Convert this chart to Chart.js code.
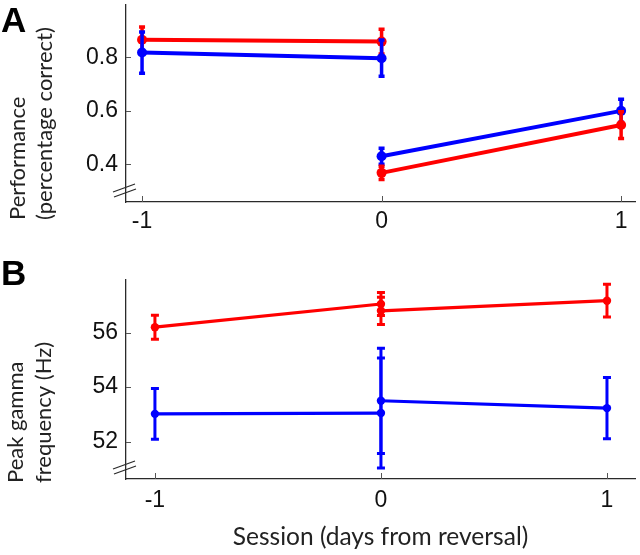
<!DOCTYPE html>
<html>
<head>
<meta charset="utf-8">
<script src="https://cdn.jsdelivr.net/npm/chart.js@4.4.1/dist/chart.umd.min.js"></script>
<style>
  html, body { margin: 0; padding: 0; background: #ffffff; }
  #wrap { position: relative; width: 640px; height: 555px; }
  canvas { position: absolute; left: 0; }
  #cA { top: 0; }
  #cB { top: 240px; }
</style>
</head>
<body>
<div id="wrap">
  <canvas id="cA" width="640" height="240"></canvas>
  <canvas id="cB" width="640" height="315"></canvas>
</div>
<script>
// ---------- data ----------
const sessionsPre = [-1, 0];
const sessionsPost = [0, 1];
const xTickLabels = ['-1', '0', '1'];

// Panel A: performance (percentage correct)
const perfRedPre = [0.866, 0.859];
const perfRedPreErr = [0.048, 0.046];
const perfBluePre = [0.818, 0.797];
const perfBluePreErr = [0.077, 0.068];
const perfRedPost = [0.368, 0.547];
const perfRedPostErr = [0.025, 0.05];
const perfBluePost = [0.43, 0.6];
const perfBluePostErr = [0.03, 0.043];
const perfTicks = [0.4, 0.6, 0.8];

// Panel B: peak gamma frequency (Hz)
const gammaRedPre = [56.2, 57.05];
const gammaRedPreErr = [0.44, 0.42];
const gammaBluePre = [53.02, 53.05];
const gammaBluePreErr = [0.93, 2.02];
const gammaRedPost = [56.8, 57.17];
const gammaRedPostErr = [0.5, 0.6];
const gammaBluePost = [53.5, 53.23];
const gammaBluePostErr = [1.93, 1.12];
const gammaTicks = [52, 54, 56];

const panelALetter = 'A';
const panelBLetter = 'B';
const yTitleA = ['Performance', '(percentage correct)'];
const yTitleB = ['Peak gamma', 'frequency (Hz)'];
const xTitle = 'Session (days from reversal)';

// ---------- styling ----------
const RED = '#ff0000';
const BLUE = '#0000ff';
const AXIS = '#2a2a2a';
const TEXT = '#111111';
const TITLE_FONT = 'Lato, "Open Sans", sans-serif';
const TICK_FONT = '"Liberation Sans", Arial, sans-serif';

function pts(xs, ys) { return xs.map((x, i) => ({ x: x, y: ys[i] })); }

function ds(label, xs, ys, errs, color, lw, r) {
  return {
    label: label, data: pts(xs, ys), errors: errs,
    borderColor: color, backgroundColor: color,
    borderWidth: lw, pointRadius: r, pointHoverRadius: r,
    pointBorderWidth: 0, tension: 0, fill: false
  };
}

const errorBars = {
  id: 'errorBars',
  afterDatasetDraw(chart, args, opts) {
    const d = chart.data.datasets[args.index];
    if (!d || !d.errors) return;
    const { ctx } = chart;
    const x = chart.scales.x, y = chart.scales.y;
    ctx.save();
    ctx.strokeStyle = d.borderColor;
    ctx.lineWidth = opts.width || 3;
    const cw = opts.cap || 4;
    d.data.forEach((p, j) => {
      const e = d.errors[j];
      const px = x.getPixelForValue(p.x);
      const t = y.getPixelForValue(p.y + e);
      const b = y.getPixelForValue(p.y - e);
      ctx.beginPath();
      ctx.moveTo(px, t); ctx.lineTo(px, b);
      ctx.moveTo(px - cw, t); ctx.lineTo(px + cw, t);
      ctx.moveTo(px - cw, b); ctx.lineTo(px + cw, b);
      ctx.stroke();
    });
    ctx.restore();
  }
};

const decorations = {
  id: 'decorations',
  afterDraw(chart, args, opts) {
    const { ctx, chartArea } = chart;
    const x = chart.scales.x, y = chart.scales.y;
    const L = chartArea.left, B = chartArea.bottom;
    ctx.save();
    // inward tick marks
    ctx.strokeStyle = '#555555';
    ctx.lineWidth = 1;
    ctx.beginPath();
    y.ticks.forEach(t => {
      const py = Math.round(y.getPixelForValue(t.value)) + 0.5;
      ctx.moveTo(L, py); ctx.lineTo(L + 5, py);
    });
    x.ticks.forEach(t => {
      const px = Math.round(x.getPixelForValue(t.value)) + 0.5;
      ctx.moveTo(px, B); ctx.lineTo(px, B - 6);
    });
    ctx.stroke();
    // axis break marks
    ctx.strokeStyle = AXIS;
    ctx.lineWidth = 1.3;
    ctx.beginPath();
    ctx.moveTo(L - 13, B - 10); ctx.lineTo(L + 9, B - 18);
    ctx.moveTo(L - 12, B - 5); ctx.lineTo(L + 10, B - 13);
    ctx.stroke();
    // panel letter
    ctx.fillStyle = '#000000';
    ctx.font = 'bold 35px ' + TICK_FONT;
    ctx.textAlign = 'left';
    ctx.textBaseline = 'alphabetic';
    ctx.fillText(opts.letter, 1, opts.letterY);
    // y-axis title (two lines, start-aligned)
    ctx.fillStyle = '#222222';
    ctx.font = opts.titleSize + 'px ' + TITLE_FONT;
    opts.title.forEach((line, i) => {
      ctx.save();
      ctx.translate(opts.titleX[i], opts.titleStart);
      ctx.rotate(-Math.PI / 2);
      ctx.fillText(line, 0, 0);
      ctx.restore();
    });
    ctx.restore();
  }
};

function makeOptions(cfg) {
  return {
    responsive: false,
    animation: false,
    events: [],
    layout: { padding: { top: cfg.top, right: 5, left: 0, bottom: 0 } },
    plugins: {
      legend: { display: false },
      tooltip: { enabled: false },
      errorBars: cfg.err,
      decorations: cfg.deco
    },
    scales: {
      x: {
        type: 'linear',
        min: cfg.xMin, max: cfg.xMax,
        grid: { display: false, drawTicks: false },
        border: { display: true, color: AXIS, width: 1.3 },
        afterBuildTicks: (s) => { s.ticks = xTickLabels.map(v => ({ value: Number(v) })); },
        ticks: {
          padding: cfg.xPad,
          color: TEXT,
          font: { family: TICK_FONT, size: 23 },
          callback: (v) => String(v)
        },
        title: cfg.xTitle,
        afterFit: (s) => { s.height = cfg.xHeight; s.paddingLeft = 0; s.paddingRight = 0; }
      },
      y: {
        type: 'linear',
        min: cfg.yMin, max: cfg.yMax,
        grid: { display: false, drawTicks: false },
        border: { display: true, color: AXIS, width: 1.3 },
        afterBuildTicks: (s) => { s.ticks = cfg.yTicks.map(v => ({ value: v })); },
        ticks: {
          padding: 8,
          color: TEXT,
          font: { family: TICK_FONT, size: 23 },
          callback: cfg.yFmt
        },
        afterFit: (s) => { s.width = 126; s.paddingTop = 0; s.paddingBottom = 0; }
      }
    }
  };
}

// ---------- Panel A ----------
new Chart(document.getElementById('cA'), {
  type: 'line',
  data: {
    datasets: [
      ds('Blue pre', sessionsPre, perfBluePre, perfBluePreErr, BLUE, 4, 5),
      ds('Red pre', sessionsPre, perfRedPre, perfRedPreErr, RED, 4, 5),
      ds('Red post', sessionsPost, perfRedPost, perfRedPostErr, RED, 4, 5),
      ds('Blue post', sessionsPost, perfBluePost, perfBluePostErr, BLUE, 4, 5)
    ]
  },
  options: makeOptions({
    top: 3, xMin: -1.067, xMax: 1.058, yMin: 0.259, yMax: 0.996,
    yTicks: perfTicks, yFmt: (v) => Number(v).toFixed(1),
    xPad: 6, xHeight: 38, xTitle: { display: false },
    err: { width: 3.5, cap: 3 },
    deco: { letter: panelALetter, letterY: 32, title: yTitleA, titleSize: 22,
            titleX: [25, 52], titleStart: 220 }
  }),
  plugins: [errorBars, decorations]
});

// ---------- Panel B ----------
new Chart(document.getElementById('cB'), {
  type: 'line',
  data: {
    datasets: [
      ds('Blue pre', sessionsPre, gammaBluePre, gammaBluePreErr, BLUE, 3.2, 4.2),
      ds('Blue post', sessionsPost, gammaBluePost, gammaBluePostErr, BLUE, 3.2, 4.2),
      ds('Red pre', sessionsPre, gammaRedPre, gammaRedPreErr, RED, 3.2, 4.2),
      ds('Red post', sessionsPost, gammaRedPost, gammaRedPostErr, RED, 3.2, 4.2)
    ]
  },
  options: makeOptions({
    top: 40, xMin: -1.128, xMax: 1.124, yMin: 50.63, yMax: 57.93,
    yTicks: gammaTicks, yFmt: (v) => String(v),
    xPad: 8, xHeight: 76,
    err: { width: 3, cap: 4 },
    xTitle: { display: true, text: xTitle, color: '#222222',
              font: { family: TITLE_FONT, size: 24.5 }, padding: { top: 0, bottom: 3 } },
    deco: { letter: panelBLetter, letterY: 45, title: yTitleB, titleSize: 22,
            titleX: [23, 51], titleStart: 243 }
  }),
  plugins: [errorBars, decorations]
});
</script>
</body>
</html>
